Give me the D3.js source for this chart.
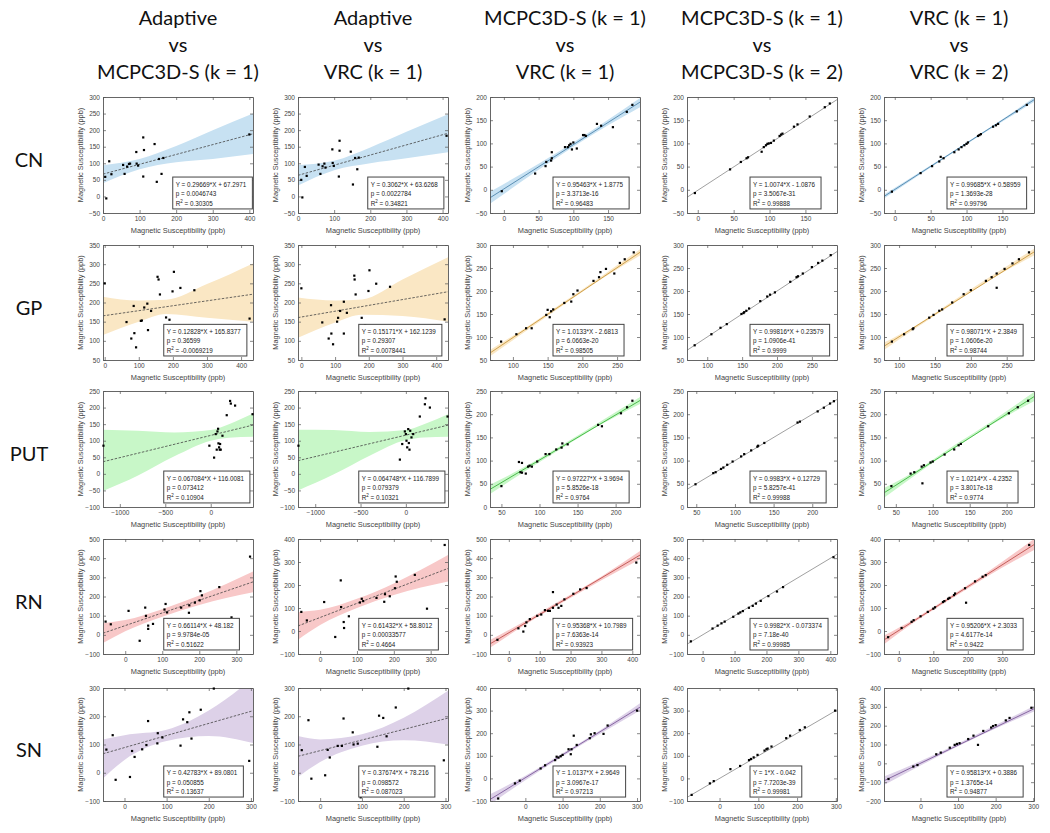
<!DOCTYPE html>
<html>
<head>
<meta charset="utf-8">
<script src="https://cdn.jsdelivr.net/npm/d3@7"></script>
<style>
  body { margin: 0; background: #fff; }
</style>
</head>
<body>
<script>
// ---- data ----
const columnTitles = [
  ["Adaptive", "vs", "MCPC3D-S (k = 1)"],
  ["Adaptive", "vs", "VRC (k = 1)"],
  ["MCPC3D-S (k = 1)", "vs", "VRC (k = 1)"],
  ["MCPC3D-S (k = 1)", "vs", "MCPC3D-S (k = 2)"],
  ["VRC (k = 1)", "vs", "VRC (k = 2)"]
];
const regions = ["CN", "GP", "PUT", "RN", "SN"];

// one entry per panel, row by row
const xDomains = [
  [0, 410], [0, 415], [-20, 196], [-15, 194], [-15, 194],
  [-5, 435], [-10, 435], [67, 283], [71, 286], [79, 288],
  [-1185, 465], [-1190, 465], [35, 232], [38, 232], [34, 237],
  [-60, 345], [-60, 347], [-61, 425], [-49, 421], [-43, 392],
  [-51, 305], [-53, 306], [-95, 308], [-84, 303], [-97, 302]
];
const yDomains = [
  [-50, 300], [-50, 300], [-50, 200], [-50, 200], [-50, 200],
  [50, 350], [50, 350], [50, 300], [50, 300], [50, 300],
  [-100, 250], [-100, 250], [0, 250], [0, 250], [0, 250],
  [-100, 500], [-100, 400], [-100, 500], [-100, 500], [-100, 400],
  [-100, 300], [-100, 300], [-100, 400], [-100, 400], [-200, 400]
];
const xTickSteps = [100, 100, 50, 50, 50,  100, 100, 50, 50, 50,  500, 500, 50, 50, 50,
                    100, 100, 100, 100, 100,  100, 100, 100, 100, 100];
const yTickSteps = [50, 50, 50, 50, 50,  50, 50, 50, 50, 50,  50, 50, 50, 50, 50,
                    100, 100, 100, 100, 100,  100, 100, 100, 100, 100];

const slopes = [
  0.29669, 0.3062, 0.95463, 1.0074, 0.99685,
  0.12828, 0.15171, 1.0133, 0.99816, 0.98071,
  0.067084, 0.064748, 0.97227, 0.9983, 1.0214,
  0.66114, 0.61432, 0.95368, 0.9982, 0.95206,
  0.42783, 0.37674, 1.0137, 1, 0.95813
];
const intercepts = [
  67.2971, 63.6268, 1.8775, -1.0876, 0.58959,
  165.8377, 162.1239, -2.6813, 0.23579, 2.3849,
  116.0081, 116.7899, 3.9694, 0.12729, -4.2352,
  48.182, 58.8012, 10.7989, -0.073374, 2.3033,
  89.0801, 78.216, 2.9649, -0.042, 0.3886
];
const pValues = [
  "0.0046743", "0.0022784", "3.3713e-16", "3.5067e-31", "1.3693e-28",
  "0.36599", "0.29307", "6.0663e-20", "1.0906e-41", "1.0606e-20",
  "0.073412", "0.079379", "5.8526e-18", "5.8257e-41", "3.8017e-18",
  "9.9784e-05", "0.00033577", "7.6363e-14", "7.18e-40", "4.6177e-14",
  "0.050855", "0.098572", "3.0967e-17", "7.7203e-39", "1.3765e-14"
];
const r2Values = [
  "0.30305", "0.34821", "0.96483", "0.99888", "0.99796",
  "-0.0069219", "0.0078441", "0.98505", "0.9999", "0.98744",
  "0.10904", "0.10321", "0.9764", "0.99988", "0.9774",
  "0.51622", "0.4664", "0.93923", "0.99985", "0.9422",
  "0.13637", "0.087023", "0.97213", "0.99981", "0.94877"
];

const pointsCN = [
  [[6,59],[9,-6],[17,106],[23,67],[55,95],[59,68],[66,90],[71,98],[74,99],[91,134],[92,99],[96,93],[110,178],[112,140],[110,60],[141,158],[147,44],[153,113],[165,116],[160,68],[400,187]],
  [[9,50],[12,-3],[19,89],[24,62],[57,96],[62,68],[68,91],[73,99],[76,87],[95,142],[96,101],[99,92],[115,168],[115,138],[113,60],[146,135],[152,36],[158,116],[164,82],[168,117],[411,183]],
  [[-3,-3],[45,35],[61,60],[60,51],[68,63],[69,81],[69,68],[88,92],[92,92],[94,96],[96,99],[98,87],[100,102],[105,89],[114,118],[116,118],[118,116],[134,142],[140,138],[157,135],[177,168],[185,183]],
  [[-4,-7],[45,44],[60,60],[68,68],[70,70],[89,82],[92,92],[95,96],[97,99],[99,100],[102,101],[106,106],[114,116],[116,119],[118,121],[134,136],[139,141],[156,158],[177,178],[184,186]],
  [[-4,-4],[36,36],[52,51],[62,61],[64,71],[68,68],[83,81],[89,87],[93,92],[97,96],[100,99],[102,102],[116,116],[118,118],[120,120],[137,136],[141,139],[144,142],[170,169],[184,183]]
];
const pointsGP = [
  [[0,250],[64,149],[78,106],[85,191],[87,120],[92,83],[106,152],[109,153],[116,187],[125,197],[127,128],[136,178],[155,267],[158,260],[162,221],[180,161],[190,155],[199,229],[203,280],[222,238],[263,232],[425,158]],
  [[0,237],[62,148],[81,106],[88,193],[89,119],[94,91],[106,150],[109,160],[115,178],[126,202],[126,119],[135,173],[157,270],[158,260],[161,221],[179,160],[189,141],[199,230],[202,284],[222,249],[263,241],[425,156]],
  [[83,90],[105,106],[119,119],[127,119],[148,148],[150,159],[153,143],[155,156],[158,160],[174,174],[184,177],[187,193],[193,201],[216,222],[224,230],[226,241],[234,248],[246,238],[254,261],[261,269],[274,284]],
  [[82,82],[106,106],[119,120],[128,128],[149,150],[152,152],[153,154],[156,157],[160,162],[176,178],[186,188],[190,192],[197,197],[219,220],[228,230],[230,232],[237,238],[250,252],[259,261],[265,266],[277,278]],
  [[90,90],[107,106],[119,117],[120,119],[142,142],[148,148],[156,157],[160,160],[174,175],[190,193],[200,202],[221,222],[229,230],[236,238],[236,207],[247,248],[258,260],[267,269],[281,284]]
];
const pointsPUT = [
  [[-1180,85],[-15,85],[37,49],[55,120],[66,73],[74,128],[81,136],[85,92],[92,80],[99,73],[103,90],[110,73],[129,115],[176,177],[213,220],[221,212],[268,206],[460,180]],
  [[-1185,85],[-66,43],[-40,90],[-11,128],[0,120],[7,100],[15,80],[26,135],[33,93],[40,73],[48,130],[62,110],[81,120],[154,173],[210,210],[217,228],[265,200],[460,173]],
  [[50,45],[73,97],[77,95],[75,75],[77,74],[82,72],[85,87],[87,89],[90,87],[97,98],[108,114],[113,114],[122,124],[129,128],[130,137],[137,135],[177,177],[182,174],[207,202],[215,215],[222,229]],
  [[49,49],[72,73],[75,75],[82,82],[85,85],[90,91],[97,98],[108,109],[112,114],[121,122],[129,130],[130,132],[138,138],[181,182],[184,184],[207,206],[215,214],[223,223],[228,228]],
  [[44,45],[70,72],[75,75],[85,87],[88,90],[86,51],[97,96],[100,98],[116,113],[129,124],[135,133],[138,136],[175,174],[203,202],[215,215],[229,229]]
];
const pointsRN = [
  [[-53,69],[-39,55],[9,125],[39,-31],[54,142],[56,99],[62,48],[62,31],[75,57],[106,132],[109,161],[113,117],[151,142],[172,115],[173,154],[188,168],[201,180],[203,228],[207,206],[254,249],[287,91],[337,408]],
  [[-51,83],[-36,46],[11,126],[41,-26],[57,104],[56,220],[64,39],[65,13],[78,64],[108,124],[113,140],[117,130],[153,144],[174,127],[176,160],[189,151],[203,186],[205,237],[208,214],[257,244],[290,97],[338,374]],
  [[-37,-26],[31,34],[47,17],[53,46],[57,65],[68,82],[92,99],[105,106],[117,129],[127,125],[133,125],[143,223],[143,141],[155,158],[161,141],[170,151],[180,185],[209,214],[231,237],[252,244],[413,377]],
  [[-37,-34],[31,33],[47,48],[59,60],[69,69],[96,94],[112,111],[118,117],[126,124],[145,141],[157,151],[167,163],[182,177],[206,202],[233,226],[252,249],[410,405]],
  [[-31,-27],[8,13],[37,40],[43,47],[63,64],[84,83],[100,97],[105,103],[128,126],[132,130],[143,140],[147,144],[160,156],[163,163],[192,186],[195,123],[221,216],[243,236],[252,243],[378,374]]
];
const pointsSN = [
  [[-43,82],[-28,133],[-21,-25],[13,-15],[18,77],[24,56],[42,83],[52,98],[56,183],[78,104],[79,140],[90,125],[96,-75],[133,96],[139,189],[149,179],[154,214],[159,121],[181,223],[212,298],[296,42]],
  [[-44,80],[-28,186],[-21,-21],[12,-9],[18,81],[23,54],[42,95],[52,95],[56,192],[78,143],[80,100],[90,103],[97,-87],[137,92],[141,202],[151,194],[159,129],[181,231],[211,298],[296,44]],
  [[-73,-89],[-28,-22],[-15,-10],[41,44],[53,58],[80,81],[84,96],[89,92],[95,98],[100,104],[116,129],[122,107],[124,129],[130,189],[138,148],[173,178],[176,195],[186,200],[210,197],[221,234],[300,300]],
  [[-72,-73],[-25,-22],[-15,-12],[28,41],[53,55],[76,81],[81,86],[88,93],[98,104],[116,123],[121,129],[124,132],[134,141],[172,178],[182,189],[207,214],[220,226],[298,300]],
  [[-85,-83],[-19,-17],[-8,-9],[42,48],[54,57],[78,83],[91,98],[97,103],[104,107],[127,129],[141,147],[153,98],[167,172],[188,190],[193,198],[200,203],[227,228],[237,241],[295,295]]
];

// confidence bands: [x, lower, upper]; null where too thin to see
const bandsCN = [
  [[0,40,94],[100,82,113],[200,103,152],[300,113,200],[410,128,250]],
  [[0,33,95],[100,79,108],[200,100,148],[300,115,195],[415,133,248]],
  [[-20,-30,-4],[50,43,56],[100,93,102],[150,139,151],[196,178,198]],
  null,
  [[-15,-19,-10],[50,48,53],[100,98,102],[150,147,152],[194,189,199]]
];
const bandsGP = [
  [[-5,115,215],[100,150,205],[180,170,207],[300,160,248],[435,150,302]],
  [[-10,108,213],[100,148,205],[180,168,208],[300,165,260],[435,150,318]],
  [[67,58,72],[120,114,122],[175,172,178],[230,228,235],[283,277,291]],
  null,
  [[79,72,88],[120,116,122],[175,172,178],[230,227,234],[288,277,292]]
];
const bandsPUT = [
  [[-1185,-52,133],[-800,-5,130],[-400,53,125],[0,100,132],[200,109,150],[465,112,182]],
  [[-1190,-50,133],[-800,-2,132],[-400,55,126],[0,102,132],[200,110,150],[465,112,180]],
  [[35,28,48],[80,76,86],[130,127,134],[180,177,184],[232,222,237]],
  null,
  [[34,20,41],[80,73,81],[130,127,134],[180,178,185],[237,228,248]]
];
const bandsRN = [
  [[-60,-43,60],[0,19,77],[100,95,134],[200,156,205],[345,222,330]],
  [[-60,-38,83],[0,26,92],[100,100,140],[200,157,207],[347,215,330]],
  [[-61,-68,-27],[50,50,70],[150,146,164],[300,285,305],[425,395,437]],
  null,
  [[-43,-58,-20],[50,43,57],[150,138,152],[250,232,249],[392,352,400]]
];
const bandsSN = [
  [[-51,-20,118],[0,45,133],[100,112,152],[200,130,220],[305,105,335]],
  [[-53,-15,130],[0,38,118],[100,96,136],[200,115,195],[306,100,290]],
  [[-95,-115,-70],[0,-8,12],[100,97,111],[200,196,212],[308,300,332]],
  null,
  [[-97,-115,-70],[0,-12,12],[100,91,105],[200,185,203],[302,275,305]]
];

const allPoints = [pointsCN, pointsGP, pointsPUT, pointsRN, pointsSN];
const allBands = [bandsCN, bandsGP, bandsPUT, bandsRN, bandsSN];

// ---- styling / layout ----
const bandColors = ["#c7e1f2", "#fae7c4", "#c8f7c8", "#f8c8c8", "#ddd1e8"];
const lineColors = ["#4f86ad", "#c9993f", "#3cb43c", "#c0504d", "#7e5a9b"];

const width = 1050;
const height = 833;
const colLeft = [103, 298, 490, 687, 884];
const rowTop = [97, 245, 391, 539, 688];
const rowH = [116, 115, 116, 115, 113];
const plotW = 150;

const svg = d3.select("body")
  .append("svg")
  .attr("width", width)
  .attr("height", height)
  .style("font-family", "'Liberation Sans', Arial, sans-serif");

const defs = svg.append("defs");

// column headers
columnTitles.forEach((lines, c) => {
  const cx = colLeft[c] + plotW / 2;
  lines.forEach((t, k) => {
    svg.append("text")
      .attr("x", cx)
      .attr("y", 25 + k * 27)
      .attr("text-anchor", "middle")
      .style("font-family", "Lato, 'Open Sans', sans-serif")
      .style("font-size", "20px")
      .attr("fill", "#111")
      .text(t);
  });
});

// row labels
regions.forEach((name, r) => {
  svg.append("text")
    .attr("x", 29)
    .attr("y", rowTop[r] + rowH[r] / 2 + 12)
    .attr("text-anchor", "middle")
    .style("font-family", "Lato, 'Open Sans', sans-serif")
    .style("font-size", "20px")
    .attr("fill", "#111")
    .text(name);
});

function ticksFor(domain, step) {
  const start = Math.ceil(domain[0] / step) * step;
  return d3.range(start, domain[1] + 1e-9, step);
}

function drawPanel(r, c) {
  const i = r * 5 + c;
  const left = colLeft[c];
  const top = rowTop[r];
  const h = rowH[r];

  const x = d3.scaleLinear().domain(xDomains[i]).range([left, left + plotW]);
  const y = d3.scaleLinear().domain(yDomains[i]).range([top + h, top]);

  const g = svg.append("g");

  const clipId = `clip-${r}-${c}`;
  defs.append("clipPath")
    .attr("id", clipId)
    .append("rect")
    .attr("x", left)
    .attr("y", top)
    .attr("width", plotW)
    .attr("height", h);

  const inner = g.append("g").attr("clip-path", `url(#${clipId})`);

  const band = allBands[r][c];
  if (band) {
    inner.append("path")
      .datum(band)
      .attr("fill", bandColors[r])
      .attr("d", d3.area()
        .x(d => x(d[0]))
        .y0(d => y(d[1]))
        .y1(d => y(d[2]))
        .curve(d3.curveMonotoneX));
  }

  // fitted line
  const a = slopes[i], b = intercepts[i];
  const fitLine = inner.append("path")
    .datum(xDomains[i])
    .attr("fill", "none")
    .attr("d", d3.line().x(d => x(d)).y(d => y(a * d + b)));
  if (c < 2) {
    fitLine.attr("stroke", "#444").attr("stroke-width", 0.8).attr("stroke-dasharray", "2.5,1.5");
  } else if (c === 3) {
    fitLine.attr("stroke", "#888").attr("stroke-width", 0.8);
  } else {
    fitLine.attr("stroke", lineColors[r]).attr("stroke-width", 0.9);
  }

  // axes (box with inward ticks)
  const xt = ticksFor(xDomains[i], xTickSteps[i]);
  const yt = ticksFor(yDomains[i], yTickSteps[i]);

  const axes = [
    [d3.axisBottom(x).tickValues(xt), `translate(0,${top + h})`, true],
    [d3.axisLeft(y).tickValues(yt), `translate(${left},0)`, true],
    [d3.axisTop(x).tickValues(xt), `translate(0,${top})`, false],
    [d3.axisRight(y).tickValues(yt), `translate(${left + plotW},0)`, false]
  ];
  axes.forEach(([ax, tr, labelled]) => {
    ax.tickSize(-3).tickSizeOuter(0).tickPadding(3);
    if (!labelled) ax.tickFormat(() => "");
    else ax.tickFormat(d3.format("d"));
    g.append("g")
      .attr("transform", tr)
      .call(ax)
      .call(s => s.select(".domain").attr("stroke", "#555").attr("stroke-width", 0.9))
      .call(s => s.selectAll(".tick line").attr("stroke", "#555").attr("stroke-width", 0.7))
      .call(s => s.selectAll("text")
        .attr("fill", "#444")
        .style("font-size", "6.5px")
        .style("font-family", "'Liberation Sans', Arial, sans-serif"));
  });

  // points (not clipped), drawn as small squares like MATLAB dots
  g.append("g")
    .selectAll("rect")
    .data(allPoints[r][c])
    .join("rect")
    .attr("x", d => x(d[0]) - 1.1)
    .attr("y", d => y(d[1]) - 1.1)
    .attr("width", 2.2)
    .attr("height", 2.2)
    .attr("fill", "#000");

  // axis labels
  g.append("text")
    .attr("x", left + plotW / 2)
    .attr("y", top + h + 20)
    .attr("text-anchor", "middle")
    .attr("fill", "#444")
    .style("font-size", "7.4px")
    .text("Magnetic Susceptibility (ppb)");

  g.append("text")
    .attr("transform", `translate(${left - 20},${top + h / 2}) rotate(-90)`)
    .attr("text-anchor", "middle")
    .attr("fill", "#444")
    .style("font-size", "7.4px")
    .text("Magnetic Susceptibility (ppb)");

  // equation box
  const bx = left + plotW * (c < 2 ? (r === 0 ? 0.465 : 0.405) : 0.42);
  const by = top + h * 0.69;
  const bh = h * 0.275;
  const box = g.append("g");
  const boxRect = box.append("rect")
    .attr("x", bx)
    .attr("y", by)
    .attr("height", bh)
    .attr("fill", "#fff")
    .attr("stroke", "#444")
    .attr("stroke-width", 1);

  const eq = `Y = ${a}*X ${b < 0 ? "-" : "+"} ${Math.abs(b)}`;
  const lines = box.append("g")
    .style("font-size", "6.3px")
    .attr("fill", "#222");
  lines.append("text").attr("x", bx + 3).attr("y", by + bh * 0.3).text(eq);
  lines.append("text").attr("x", bx + 3).attr("y", by + bh * 0.6).text(`p = ${pValues[i]}`);
  const r2 = lines.append("text").attr("x", bx + 3).attr("y", by + bh * 0.9);
  r2.append("tspan").text("R");
  r2.append("tspan").attr("dy", -2.5).style("font-size", "4.5px").text("2");
  r2.append("tspan").attr("dy", 2.5).text(` = ${r2Values[i]}`);

  let tw = 0;
  lines.selectAll("text").each(function() {
    tw = Math.max(tw, this.getComputedTextLength());
  });
  boxRect.attr("width", tw + 9);
}

for (let r = 0; r < 5; r++) {
  for (let c = 0; c < 5; c++) drawPanel(r, c);
}
</script>
</body>
</html>
